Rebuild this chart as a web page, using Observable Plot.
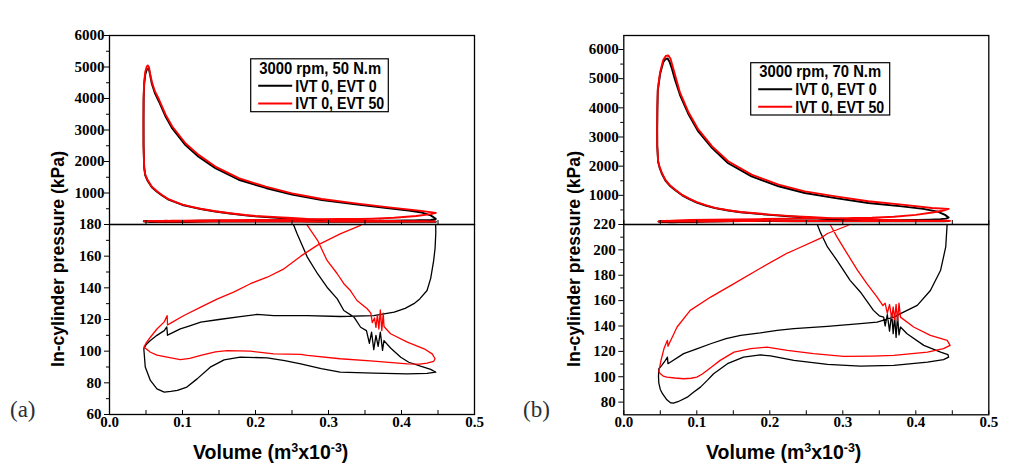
<!DOCTYPE html>
<html><head><meta charset="utf-8">
<script src="https://cdn.jsdelivr.net/npm/d3@7"></script>
<script src="https://cdn.jsdelivr.net/npm/@observablehq/plot@0.6"></script>
<style>
html,body{margin:0;padding:0;background:#fff;}
#chart{position:relative;width:1021px;height:469px;overflow:hidden;background:#fff;}
#chart svg{position:absolute;left:0;top:0;}
</style></head><body><div id="chart"></div>
<script>
// ---------- data ----------
const volumeTicks = [0, 0.1, 0.2, 0.3, 0.4, 0.5];
const volumeMinorTicks = [0.05, 0.15, 0.25, 0.35, 0.45];
const highPressureTicks = [1000, 2000, 3000, 4000, 5000, 6000];
const highPressureMinorTicks = [500, 1500, 2500, 3500, 4500, 5500];
const lowPressureTicksA = [60, 80, 100, 120, 140, 160, 180];
const lowPressureMinorTicksA = [70, 90, 110, 130, 150, 170];
const lowPressureTicksB = [80, 100, 120, 140, 160, 180, 200, 220];
const lowPressureMinorTicksB = [90, 110, 130, 150, 170, 190, 210];
const seriesNames = ["IVT 0, EVT 0", "IVT 0, EVT 50"];
const seriesColors = ["#000000", "#ff0000"];
const panelTitles = ["3000 rpm, 50 N.m", "3000 rpm, 70 N.m"];
const panelLetters = ["(a)", "(b)"];
const yTitle = "In-cylinder pressure (kPa)";

// [volume (m3 x 1e-3), pressure (kPa)] — panel (a), IVT 0 / EVT 0
const loopA_EVT0 = [
[0.047,101.5],[0.049,90],[0.056,81.5],[0.065,76.2],[0.075,74.1],[0.084,74.6],[0.093,75.2],[0.106,77.3],[0.12,82.5],[0.138,89.9],[0.157,94.5],[0.179,96.2],[0.216,95.8],[0.24,94],[0.262,92],[0.29,89],[0.316,86.7],[0.362,86.1],[0.408,85.7],[0.435,86],[0.447,86.7],
[0.44,88.5],[0.426,90.5],[0.41,93],[0.399,96.2],[0.385,102],[0.376,106.7],[0.374,100.5],[0.371,112],[0.368,103],[0.365,110],[0.362,101],[0.359,112],[0.356,105],[0.352,113],[0.344,115.1],[0.335,121.5],[0.321,125.7],[0.312,133],[0.298,140.4],[0.285,148.9],[0.271,159.4],[0.257,174.1],[0.252,180],[0.23,210],[0.2,258],[0.186,290],[0.165,350],[0.145,413],[0.125,490],[0.113,550],[0.1,620],[0.09,709],[0.08,800],[0.072,921],[0.065,1040],[0.058,1185],[0.052,1397],[0.049,1560],[0.0475,1800],[0.0467,2500],[0.0466,3300],[0.0468,4000],[0.0475,4450],[0.049,4760],[0.051,4910],[0.053,4945],[0.0545,4890],[0.056,4700],[0.058,4470],[0.062,4180],[0.068,3890],[0.077,3420],[0.086,3050],[0.104,2520],[0.122,2150],[0.145,1790],[0.177,1420],[0.214,1160],[0.25,950],[0.291,775],[0.337,640],[0.383,515],[0.41,445],[0.428,380],[0.44,290],[0.446,200],[0.447,175],
[0.446,165],[0.444,157],[0.44,146],[0.435,138.3],[0.425,133],[0.417,130],[0.405,127],[0.39,124.6],[0.362,122.5],[0.316,121.9],[0.271,122.5],[0.225,122.5],[0.202,123.2],[0.179,121.8],[0.15,120],[0.125,118.3],[0.11,116],[0.097,114.1],[0.081,110.5],[0.0795,110],[0.0785,115.3],[0.075,113],[0.065,110],[0.056,106.7],[0.05,104],[0.047,101.5]
];
// panel (a), IVT 0 / EVT 50
const loopA_EVT50 = [
[0.047,102.5],[0.05,101.5],[0.053,100.5],[0.056,99.3],[0.065,97.5],[0.079,96.2],[0.097,94.7],[0.11,95.5],[0.125,97.3],[0.145,99.5],[0.161,100.4],[0.193,100],[0.225,98.3],[0.262,98],[0.271,97.3],[0.316,95.2],[0.362,93.7],[0.408,92],[0.425,91.8],[0.435,92.4],[0.444,93.5],[0.446,95.2],
[0.442,98.3],[0.431,101.5],[0.408,105.7],[0.385,111],[0.376,115.6],[0.375,124],[0.373,113],[0.371,126],[0.369,114],[0.367,123],[0.365,115],[0.363,121],[0.36,118],[0.358,124],[0.353,126.8],[0.339,132],[0.33,138.3],[0.321,142.6],[0.312,148.9],[0.298,157.3],[0.285,170],[0.271,179.4],[0.25,205],[0.23,235],[0.2,270],[0.186,300],[0.165,358],[0.145,420],[0.125,500],[0.113,560],[0.1,632],[0.09,720],[0.08,815],[0.072,935],[0.065,1055],[0.058,1200],[0.052,1420],[0.049,1580],[0.0475,1820],[0.0466,2500],[0.0465,3300],[0.0467,4000],[0.0474,4500],[0.049,4850],[0.051,5010],[0.0525,5048],[0.054,5000],[0.0555,4800],[0.058,4530],[0.062,4240],[0.068,3960],[0.077,3480],[0.086,3110],[0.104,2580],[0.122,2210],[0.145,1840],[0.177,1470],[0.214,1200],[0.25,990],[0.291,810],[0.337,670],[0.383,545],[0.424,440],[0.447,370],
[0.44,330],[0.42,270],[0.39,215],[0.36,188],[0.344,179.4],[0.316,174.1],[0.285,167],[0.262,160],[0.239,152],[0.216,146.7],[0.193,142.6],[0.17,137.3],[0.148,133],[0.125,127.8],[0.102,122.5],[0.085,118],[0.0795,116.5],[0.079,122.5],[0.075,118.5],[0.065,114],[0.056,108.8],[0.05,105],[0.047,102.5]
];
// panel (b), IVT 0 / EVT 0
const loopB_EVT0 = [
[0.048,106.3],[0.0475,100],[0.048,95],[0.05,90],[0.053,86.6],[0.059,81.8],[0.064,79.5],[0.068,79.2],[0.075,80.5],[0.087,83.9],[0.095,87.5],[0.105,91.8],[0.115,97.5],[0.123,102.4],[0.142,110.3],[0.164,115.5],[0.187,117.2],[0.201,116.5],[0.233,112.9],[0.279,109.7],[0.324,108.4],[0.37,108.9],[0.416,111.5],[0.438,113.5],[0.445,115.5],[0.444,117.5],
[0.434,119.4],[0.411,124.7],[0.388,133.9],[0.379,139.2],[0.377,133],[0.375,148],[0.373,131],[0.371,147],[0.369,134],[0.367,150],[0.364,136],[0.361,149],[0.358,140],[0.356,147],[0.35,148],[0.342,152.3],[0.324,166.8],[0.31,176],[0.292,191.8],[0.279,202.3],[0.269,214.2],[0.265,220],[0.25,240],[0.23,274],[0.2,330],[0.184,366],[0.16,420],[0.143,480],[0.125,560],[0.112,651],[0.1,750],[0.089,880],[0.08,1000],[0.071,1166],[0.063,1330],[0.057,1508],[0.052,1750],[0.049,1950],[0.047,2150],[0.0458,2700],[0.0457,3300],[0.046,4000],[0.0466,4600],[0.0498,5170],[0.054,5560],[0.057,5670],[0.06,5690],[0.063,5560],[0.066,5330],[0.07,4970],[0.077,4440],[0.089,3760],[0.102,3190],[0.121,2620],[0.143,2100],[0.175,1650],[0.212,1310],[0.248,1080],[0.29,905],[0.335,735],[0.381,620],[0.41,535],[0.43,440],[0.44,330],[0.445,240],
[0.443,220.8],[0.441,202.3],[0.434,184],[0.42,168],[0.402,156.3],[0.379,149.7],[0.37,147],[0.347,143.1],[0.324,141.8],[0.279,139.7],[0.233,137.9],[0.21,136.5],[0.187,134.5],[0.16,132.6],[0.14,130],[0.119,126],[0.1,122],[0.082,118.2],[0.0605,110.3],[0.0598,115.5],[0.057,112.9],[0.052,109],[0.048,106.3]
];
// panel (b), IVT 0 / EVT 50
const loopB_EVT50 = [
[0.048,104],[0.05,102.4],[0.054,100.5],[0.059,99.7],[0.07,99],[0.082,98.4],[0.092,98.8],[0.1,99.7],[0.107,102],[0.114,105],[0.122,108.5],[0.132,112.9],[0.151,119.4],[0.174,122.1],[0.196,123.4],[0.224,120.8],[0.26,118.2],[0.301,116],[0.34,116.3],[0.37,116.8],[0.416,119.4],[0.438,122.1],[0.447,124.7],
[0.443,128.7],[0.42,132.6],[0.397,139.2],[0.379,147],[0.377,158],[0.375,144],[0.373,157],[0.371,145],[0.369,155],[0.367,146],[0.364,157],[0.361,150],[0.358,158],[0.355,156],[0.347,162.8],[0.333,173.4],[0.32,184],[0.306,197.1],[0.292,210.2],[0.283,219.6],[0.26,250],[0.23,288],[0.2,340],[0.184,376],[0.16,430],[0.143,490],[0.125,570],[0.112,665],[0.1,765],[0.089,895],[0.08,1015],[0.071,1180],[0.063,1350],[0.057,1530],[0.052,1780],[0.049,1980],[0.047,2180],[0.0458,2700],[0.0457,3300],[0.046,4050],[0.0466,4650],[0.0498,5230],[0.054,5640],[0.0575,5780],[0.061,5794],[0.064,5680],[0.067,5420],[0.071,5060],[0.077,4520],[0.089,3830],[0.102,3260],[0.121,2680],[0.143,2170],[0.175,1710],[0.212,1365],[0.248,1135],[0.29,965],[0.335,795],[0.381,680],[0.422,565],[0.445,535],
[0.438,480],[0.425,420],[0.4,330],[0.37,265],[0.34,232],[0.315,222],[0.306,219],[0.279,212.9],[0.269,209],[0.233,199.7],[0.224,197.5],[0.187,185.5],[0.151,173.4],[0.119,162.8],[0.091,152.3],[0.073,139.2],[0.0605,124],[0.0598,128.7],[0.057,125],[0.055,122],[0.051,113],[0.048,104]
];

// ---------- layout ----------
const W = 1021, H = 469;
const panels = [
  {left: 109, right: 474, top: 35, mid: 224, bottom: 414, hiMax: 6000, lo: [60, 180],
   loTicks: lowPressureTicksA, loMinor: lowPressureMinorTicksA, loops: [loopA_EVT0, loopA_EVT50],
   ytx: 57, xtx: 193, letterX: 10, legend: {x0: 250.7, y0: 58.8, x1: 388.3, y1: 111.7}},
  {left: 623.3, right: 988.3, top: 35, mid: 224, bottom: 414.3, hiMax: 6480, lo: [70, 220],
   loTicks: lowPressureTicksB, loMinor: lowPressureMinorTicksB, loops: [loopB_EVT0, loopB_EVT50],
   ytx: 573, xtx: 706, letterX: 523, legend: {x0: 750.7, y0: 62.7, x1: 889.7, y1: 115}}
];
const chart = document.getElementById("chart");
const serif = "Liberation Serif";
const labelFont = {fontFamily: serif, fontSize: 15, fontWeight: "bold", fill: "#000"};

function partPlot(p, isTop) {
  const top = isTop ? p.top : p.mid, bottom = isTop ? p.mid : p.bottom;
  const yTicks = isTop ? highPressureTicks : p.loTicks;
  const yMinor = isTop ? highPressureMinorTicks : p.loMinor;
  const sw = isTop ? 1.9 : 1.3;
  return Plot.plot({
    width: W, height: H,
    marginLeft: p.left, marginRight: W - p.right, marginTop: top, marginBottom: H - bottom,
    x: {domain: [0, 0.5]},
    y: {domain: isTop ? [0, p.hiMax] : p.lo},
    style: {background: "transparent", color: "#000", overflow: "visible"},
    marks: [
      ...p.loops.map((L, i) => Plot.line(L, {x: d => d[0], y: d => d[1], stroke: seriesColors[i],
        strokeWidth: sw, strokeLinejoin: "round", clip: true})),
      Plot.frame({stroke: "#000", strokeWidth: 1.3}),
      Plot.axisY(yTicks, {anchor: "left", tickSize: 5, fill: "none", label: null}),
      Plot.axisY(yMinor, {anchor: "left", tickSize: 3, fill: "none", label: null}),
      Plot.text(yTicks, {y: d => d, frameAnchor: "left", dx: isTop ? -5 : -8, textAnchor: "end",
        text: d => String(d), ...labelFont}),
      Plot.axisX([...volumeTicks, ...volumeMinorTicks], {anchor: "bottom", tickSize: 4, dy: -4, fill: "none", label: null}),
      isTop ? null : Plot.text(volumeTicks, {x: d => d, frameAnchor: "bottom", dy: 12,
        text: d => d.toFixed(1), ...labelFont})
    ]
  });
}

panels.forEach(p => {
  chart.appendChild(partPlot(p, true));
  chart.appendChild(partPlot(p, false));
});

// ---------- titles, legends, panel letters ----------
const ov = d3.create("svg").attr("width", W).attr("height", H).style("overflow", "visible");
const sans = "Liberation Sans";
panels.forEach((p, k) => {
  ov.append("text")
    .attr("transform", `translate(${p.ytx},259) rotate(-90)`)
    .attr("text-anchor", "middle").attr("dominant-baseline", "central")
    .attr("font-family", sans).attr("font-weight", "bold").attr("font-size", 18.5)
    .attr("textLength", 216).attr("lengthAdjust", "spacingAndGlyphs")
    .text(yTitle);
  const xt = ov.append("text").attr("x", p.xtx).attr("y", 459)
    .attr("font-family", sans).attr("font-weight", "bold").attr("font-size", 19.5);
  xt.append("tspan").text("Volume (m");
  xt.append("tspan").attr("dy", -7).attr("font-size", 12.5).text("3");
  xt.append("tspan").attr("dy", 7).text("x10");
  xt.append("tspan").attr("dy", -7).attr("font-size", 12.5).text("-3");
  xt.append("tspan").attr("dy", 7).text(")");
  ov.append("text").attr("x", p.letterX).attr("y", 417)
    .attr("font-family", serif).attr("font-size", 23)
    .attr("fill", "#2b2f36").text(panelLetters[k]);
  const L = p.legend;
  ov.append("rect").attr("x", L.x0).attr("y", L.y0).attr("width", L.x1 - L.x0).attr("height", L.y1 - L.y0)
    .attr("fill", "#fff").attr("stroke", "#000").attr("stroke-width", 1.2);
  const cx = L.x0, rowH = (L.y1 - L.y0) / 3;
  ov.append("text").attr("x", cx + 8.5).attr("y", L.y0 + rowH * 0.5).attr("dominant-baseline", "central")
    .attr("font-family", sans).attr("font-weight", "bold").attr("font-size", 16.5)
    .attr("textLength", 122).attr("lengthAdjust", "spacingAndGlyphs").text(panelTitles[k]);
  seriesNames.forEach((name, i) => {
    const yy = L.y0 + rowH * (1.5 + i) + 0.5;
    ov.append("line").attr("x1", cx + 7.5).attr("x2", cx + 41.5).attr("y1", yy).attr("y2", yy)
      .attr("stroke", seriesColors[i]).attr("stroke-width", 2);
    ov.append("text").attr("x", cx + 44.5).attr("y", yy).attr("dominant-baseline", "central")
      .attr("font-family", sans).attr("font-weight", "bold").attr("font-size", 16.5)
      .attr("textLength", i === 0 ? 81.5 : 89).attr("lengthAdjust", "spacingAndGlyphs").text(name);
  });
});
chart.appendChild(ov.node());
</script></body></html>
